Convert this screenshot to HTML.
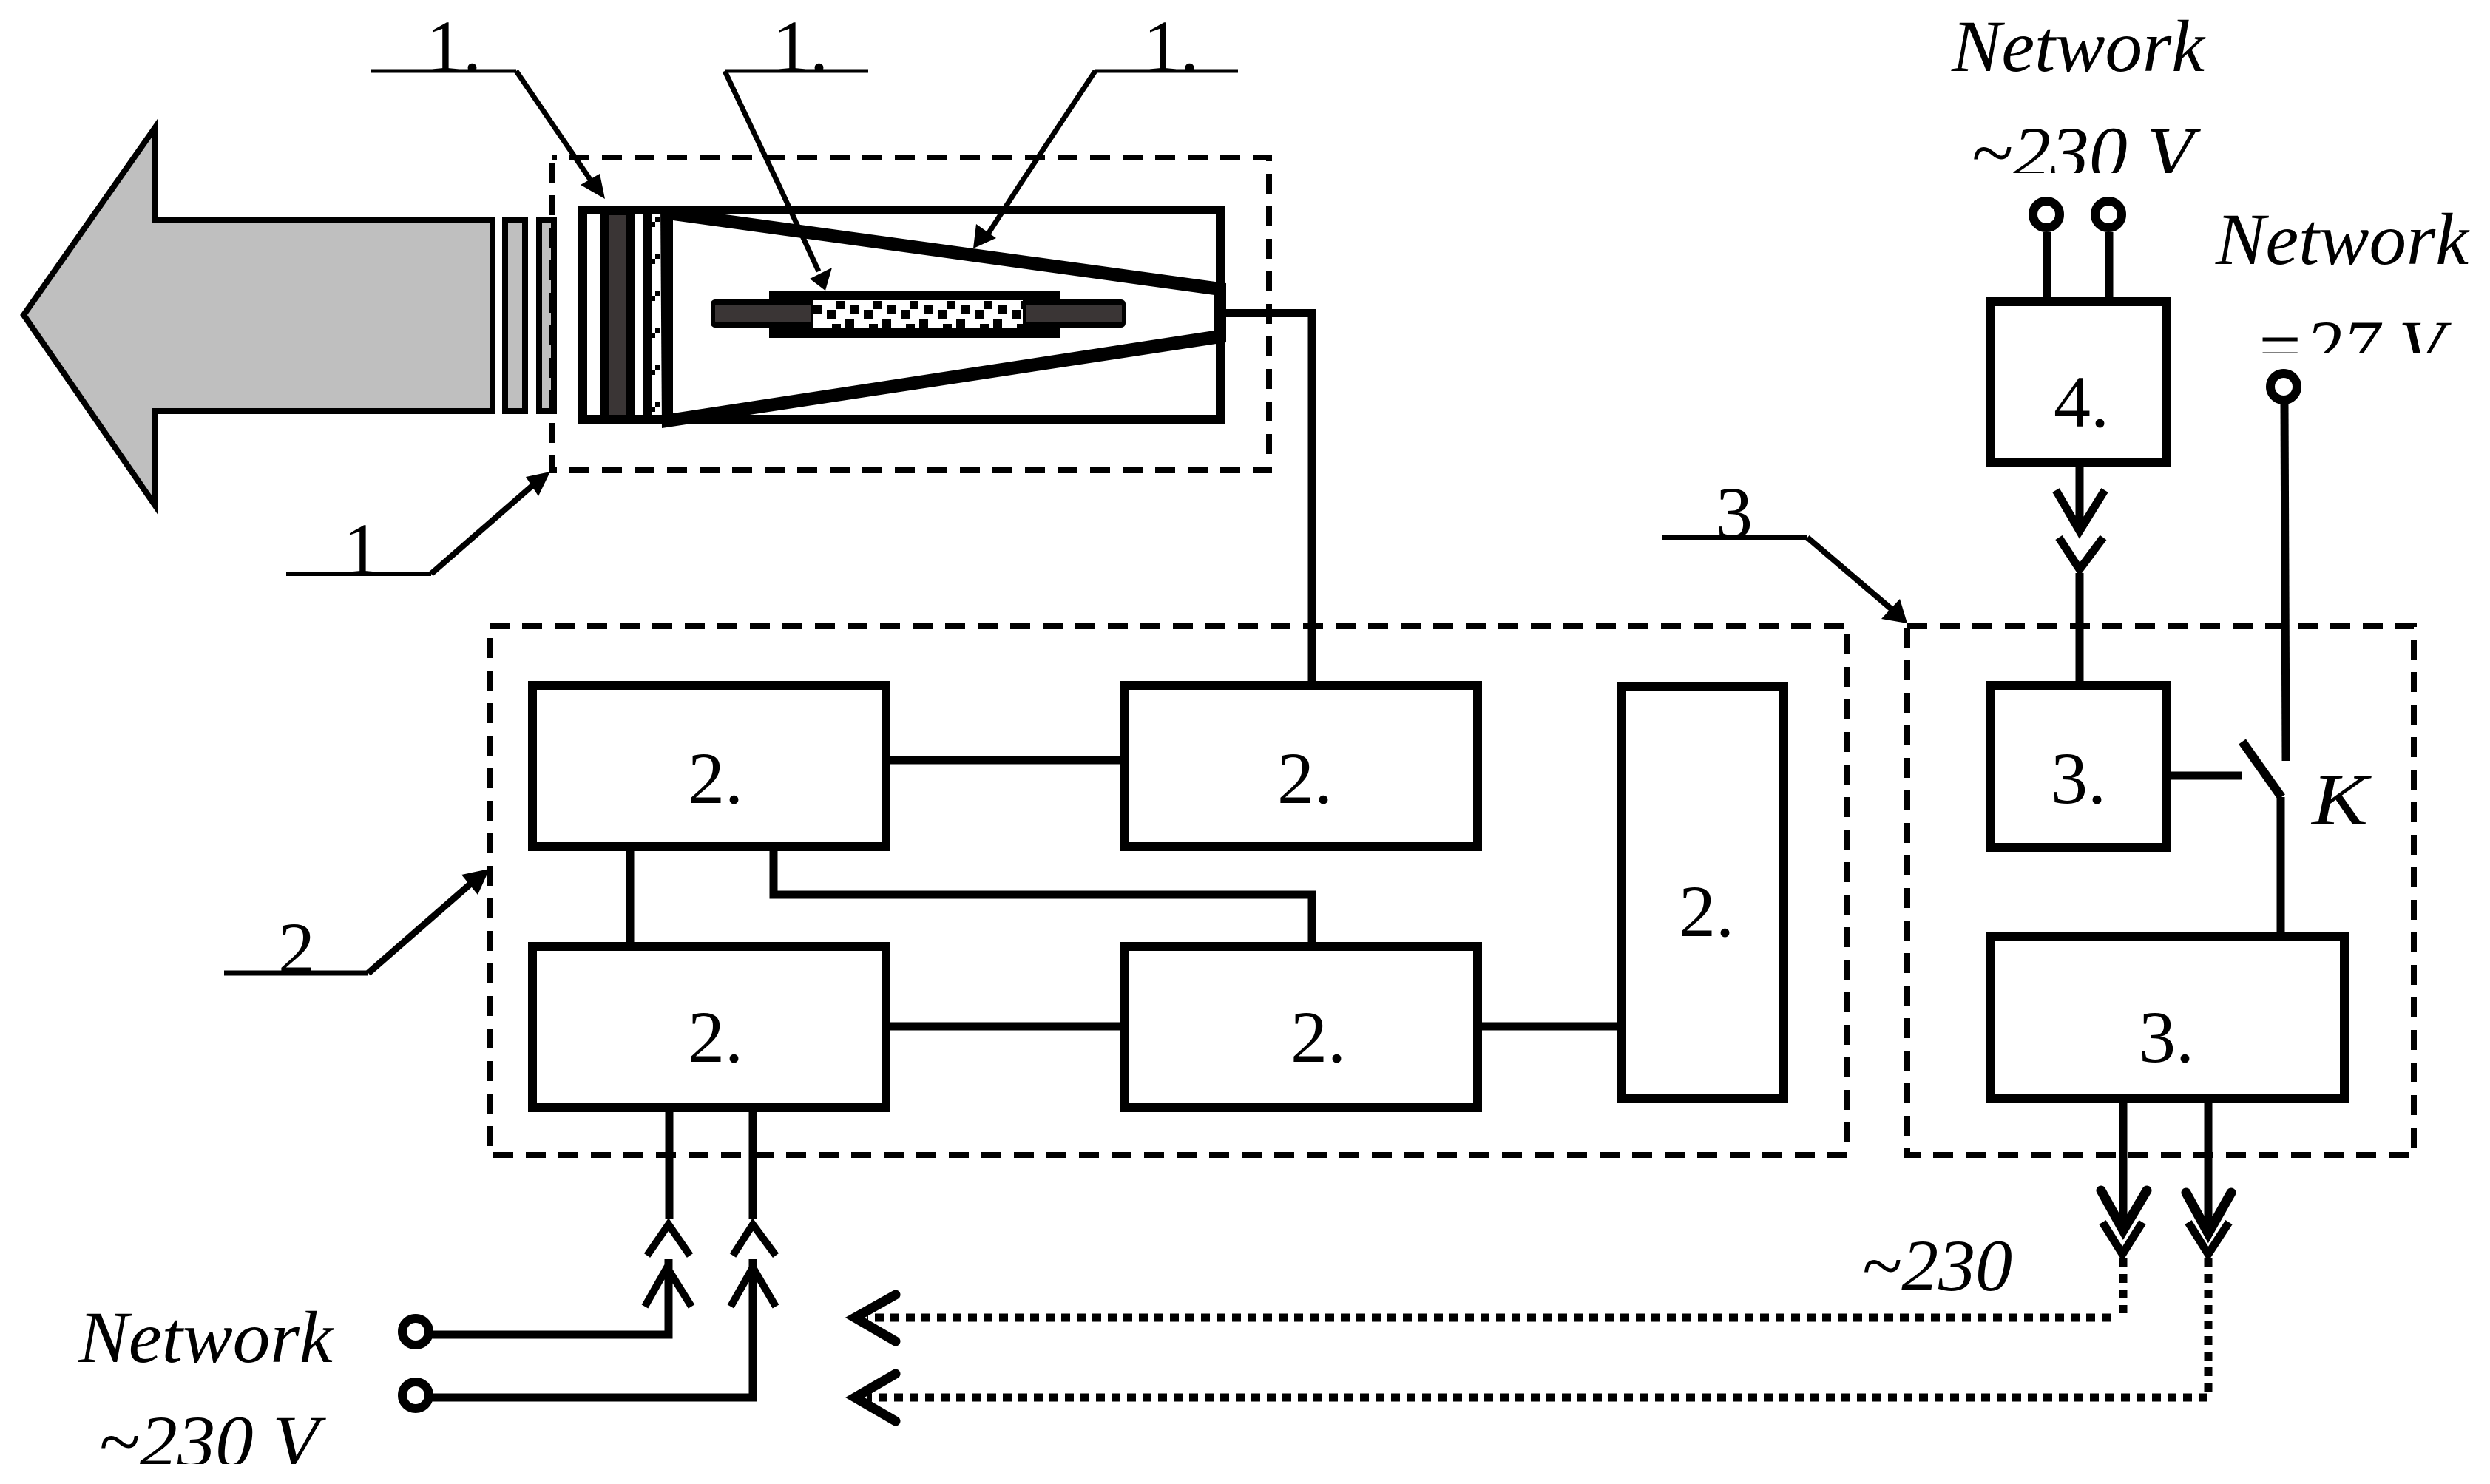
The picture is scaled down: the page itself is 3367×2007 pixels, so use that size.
<!DOCTYPE html>
<html><head><meta charset="utf-8"><style>
html,body{margin:0;padding:0;background:#fff}
svg{display:block}
text{font-family:"Liberation Serif",serif;font-size:100px;fill:#000}
.i{font-style:italic}
</style></head><body>
<svg xmlns="http://www.w3.org/2000/svg" width="3367" height="2007" viewBox="0 0 3367 2007">
<rect width="3367" height="2007" fill="#fff"/>
<defs>
<clipPath id="ck"><rect x="1100" y="406" width="283" height="37"/></clipPath>
</defs>

<!-- big arrow -->
<polygon points="32,426 210,172 210,297 666,297 666,556 210,556 210,684" fill="#bfbfbf" stroke="#000" stroke-width="8" stroke-linejoin="miter"/>
<rect x="683" y="298" width="27" height="258" fill="#bfbfbf" stroke="#000" stroke-width="8"/>
<rect x="729" y="298" width="20" height="258" fill="#bfbfbf" stroke="#000" stroke-width="8"/>

<!-- dashed boxes -->
<g fill="none" stroke="#000" stroke-width="8" stroke-dasharray="27 17">
<rect x="746" y="213" width="970" height="423" stroke-dashoffset="20"/>
<rect x="662" y="846" width="1836" height="716"/>
<rect x="2579" y="846" width="685" height="716"/>
</g>

<!-- main tube body -->
<rect x="788" y="284" width="862" height="283" fill="#fff" stroke="#000" stroke-width="12"/>
<rect x="812" y="284" width="47" height="283" fill="#000"/>
<rect x="824" y="291" width="23" height="270" fill="#3a3535"/>
<rect x="870" y="284" width="12" height="283" fill="#000"/>
<g fill="#000">
<rect x="886" y="293" width="7" height="7"/><rect x="886" y="344" width="7" height="6"/><rect x="886" y="394" width="7" height="6"/><rect x="886" y="444" width="7" height="6"/><rect x="886" y="494" width="7" height="6"/><rect x="886" y="544" width="7" height="6"/>
<rect x="882" y="300" width="4" height="7"/><rect x="882" y="350" width="4" height="7"/><rect x="882" y="400" width="4" height="7"/><rect x="882" y="450" width="4" height="7"/><rect x="882" y="500" width="4" height="7"/><rect x="882" y="550" width="4" height="7"/>
</g>
<polygon points="893,278 1658,383 1658,463 895,579" fill="#000"/>
<polygon points="910,298 1642,399 1642,447 910,559" fill="#fff"/>
<rect x="1658" y="418" width="118" height="11" fill="#000"/>

<!-- inner element -->
<rect x="1040" y="393" width="394" height="64" fill="#000"/>
<rect x="961" y="405" width="561" height="38" rx="6" fill="#000"/>
<rect x="967" y="412" width="129" height="24" rx="2" fill="#3a3535"/>
<rect x="1387" y="412" width="130" height="24" rx="2" fill="#3a3535"/>
<rect x="1100" y="406" width="283" height="37" fill="#fff"/>
<g clip-path="url(#ck)" fill="#000">
<rect x="1100" y="413" width="11" height="12"/>
<g id="c0"><rect x="1130" y="407" width="12" height="11"/><rect x="1150" y="413" width="12" height="12"/><rect x="1118" y="419" width="12" height="13"/><rect x="1143" y="432" width="12" height="11"/><rect x="1125" y="438" width="12" height="5"/></g>
<use href="#c0" x="50"/><use href="#c0" x="100"/><use href="#c0" x="150"/><use href="#c0" x="200"/><use href="#c0" x="250"/>
</g>

<!-- leaders -->
<g fill="none" stroke="#000" stroke-linejoin="miter">
<polyline points="502,96 698,96" stroke-width="5"/>
<polyline points="698,96 803,250" stroke-width="7"/>
<polyline points="980,96 1174,96" stroke-width="5"/>
<polyline points="980,96 1053,250 1107,367" stroke-width="7"/>
<polyline points="1674,96 1481,96" stroke-width="5"/>
<polyline points="1481,96 1379,250 1335,318" stroke-width="7"/>
<polyline points="387,776 583,776" stroke-width="6"/>
<polyline points="583,776 722,655" stroke-width="8"/>
<polyline points="303,1316 498,1316" stroke-width="7"/>
<polyline points="498,1316 640,1192" stroke-width="9"/>
<polyline points="2248,727 2444,727" stroke-width="6"/>
<polyline points="2444,727 2565,830" stroke-width="8"/>
</g>
<g fill="#000">
<polygon points="818,269 785,250 811,235"/>
<polygon points="1116,393 1095,377 1125,362"/>
<polygon points="1316,336 1320,303 1347,322"/>
<polygon points="744,638 711,645 728,671"/>
<polygon points="662,1175 624,1183 646,1210"/>
<polygon points="2579,843 2544,837 2569,810"/>
</g>
<text x="576" y="96">1.</text>
<text x="1045" y="96">1.</text>
<text x="1546" y="96">1.</text>
<text x="464" y="776">1</text>
<text x="376" y="1316">2</text>
<text x="2320" y="727">3</text>

<!-- blocks -->
<g fill="#fff" stroke="#000" stroke-width="12">
<rect x="720" y="927" width="478" height="218"/>
<rect x="1520" y="927" width="478" height="218"/>
<rect x="720" y="1280" width="478" height="218"/>
<rect x="1520" y="1280" width="478" height="218"/>
<rect x="2193" y="928" width="219" height="558"/>
<rect x="2691" y="408" width="239" height="218"/>
<rect x="2691" y="927" width="239" height="219"/>
<rect x="2692" y="1267" width="478" height="219"/>
</g>
<text x="930" y="1086">2.</text>
<text x="1727" y="1086">2.</text>
<text x="930" y="1436">2.</text>
<text x="1745" y="1436">2.</text>
<text x="2270" y="1266">2.</text>
<text x="2777" y="577">4.</text>
<text x="2773" y="1086">3.</text>
<text x="2892" y="1436">3.</text>

<!-- connectors -->
<g fill="none" stroke="#000" stroke-width="11">
<line x1="1774" y1="418" x2="1774" y2="922"/>
<line x1="1203" y1="1028" x2="1515" y2="1028"/>
<line x1="852" y1="1151" x2="852" y2="1275"/>
<polyline points="1046,1140 1046,1210 1774,1210 1774,1275"/>
<line x1="1203" y1="1388" x2="1515" y2="1388"/>
<line x1="2004" y1="1388" x2="2188" y2="1388"/>
<line x1="905" y1="1503" x2="905" y2="1648"/>
<line x1="1018" y1="1503" x2="1018" y2="1648"/>
<polyline points="573,1805 904,1805 904,1703"/>
<polyline points="573,1890 1018,1890 1018,1703"/>
<line x1="2768" y1="314" x2="2768" y2="404"/>
<line x1="2852" y1="314" x2="2852" y2="404"/>
<line x1="2812" y1="631" x2="2812" y2="720"/>
<line x1="2812" y1="775" x2="2812" y2="922"/>
<line x1="3089" y1="547" x2="3091" y2="1029"/>
<line x1="2935" y1="1049" x2="3032" y2="1049"/>
<line x1="3084" y1="1078" x2="3084" y2="1263"/>
<line x1="3032" y1="1003" x2="3085" y2="1078" stroke-width="12"/>
<line x1="2871" y1="1491" x2="2871" y2="1665"/>
<line x1="2986" y1="1491" x2="2986" y2="1668"/>
</g>

<!-- chevrons -->
<g fill="none" stroke="#000" stroke-width="10" stroke-linejoin="miter">
<polyline points="875,1698 904,1656 933,1698"/>
<polyline points="991,1698 1018,1656 1049,1698"/>
<polyline points="872,1767 902,1714 935,1767"/>
<polyline points="988,1767 1018,1714 1049,1767"/>
</g>
<g fill="none" stroke="#000" stroke-width="11" stroke-linejoin="miter">
<polyline points="2780,663 2812,718 2846,663"/>
<polyline points="2784,727 2812,770 2844,727"/>
<polyline points="2843,1653 2870,1696 2897,1653"/>
<polyline points="2959,1653 2986,1696 3014,1653"/>
</g>
<g fill="none" stroke="#000" stroke-width="13" stroke-linejoin="miter" stroke-linecap="round">
<polyline points="2841,1610 2871,1664 2903,1610"/>
<polyline points="2956,1613 2986,1668 3017,1613"/>
<polyline points="1211,1751 1156,1782 1211,1814"/>
<polyline points="1211,1858 1156,1890 1211,1922"/>
</g>

<!-- dotted -->
<g fill="none" stroke="#000" stroke-width="11" stroke-dasharray="12 9">
<polyline points="2871,1702 2871,1776"/>
<polyline points="2854,1782 1173,1782"/>
<polyline points="2986,1702 2986,1884 2986,1890 1173,1890"/>
</g>

<!-- network labels -->
<text class="i" x="2639" y="96" textLength="342" lengthAdjust="spacingAndGlyphs">Network</text>
<text class="i" x="2665" y="240" textLength="301" lengthAdjust="spacingAndGlyphs">~230 V</text>
<rect x="2640" y="234" width="340" height="20" fill="#fff"/>
<text class="i" x="2996" y="357" textLength="342" lengthAdjust="spacingAndGlyphs">Network</text>
<text class="i" x="3048" y="502" textLength="257" lengthAdjust="spacingAndGlyphs">=27 V</text>
<rect x="3030" y="478" width="300" height="28" fill="#fff"/>
<text class="i" x="3126" y="1115" textLength="76" lengthAdjust="spacingAndGlyphs">K</text>
<text class="i" x="2517" y="1745">~230</text>
<text class="i" x="106" y="1842" textLength="344" lengthAdjust="spacingAndGlyphs">Network</text>
<text class="i" x="133" y="1983" textLength="298" lengthAdjust="spacingAndGlyphs">~230 V</text>
<rect x="120" y="1980" width="330" height="20" fill="#fff"/>

<!-- terminals -->
<g fill="#fff" stroke="#000" stroke-width="12">
<circle cx="2767" cy="290" r="18"/>
<circle cx="2851" cy="290" r="18"/>
<circle cx="3088" cy="523" r="18"/>
<circle cx="562" cy="1801" r="18"/>
<circle cx="562" cy="1887" r="18"/>
</g>
</svg>
</body></html>
